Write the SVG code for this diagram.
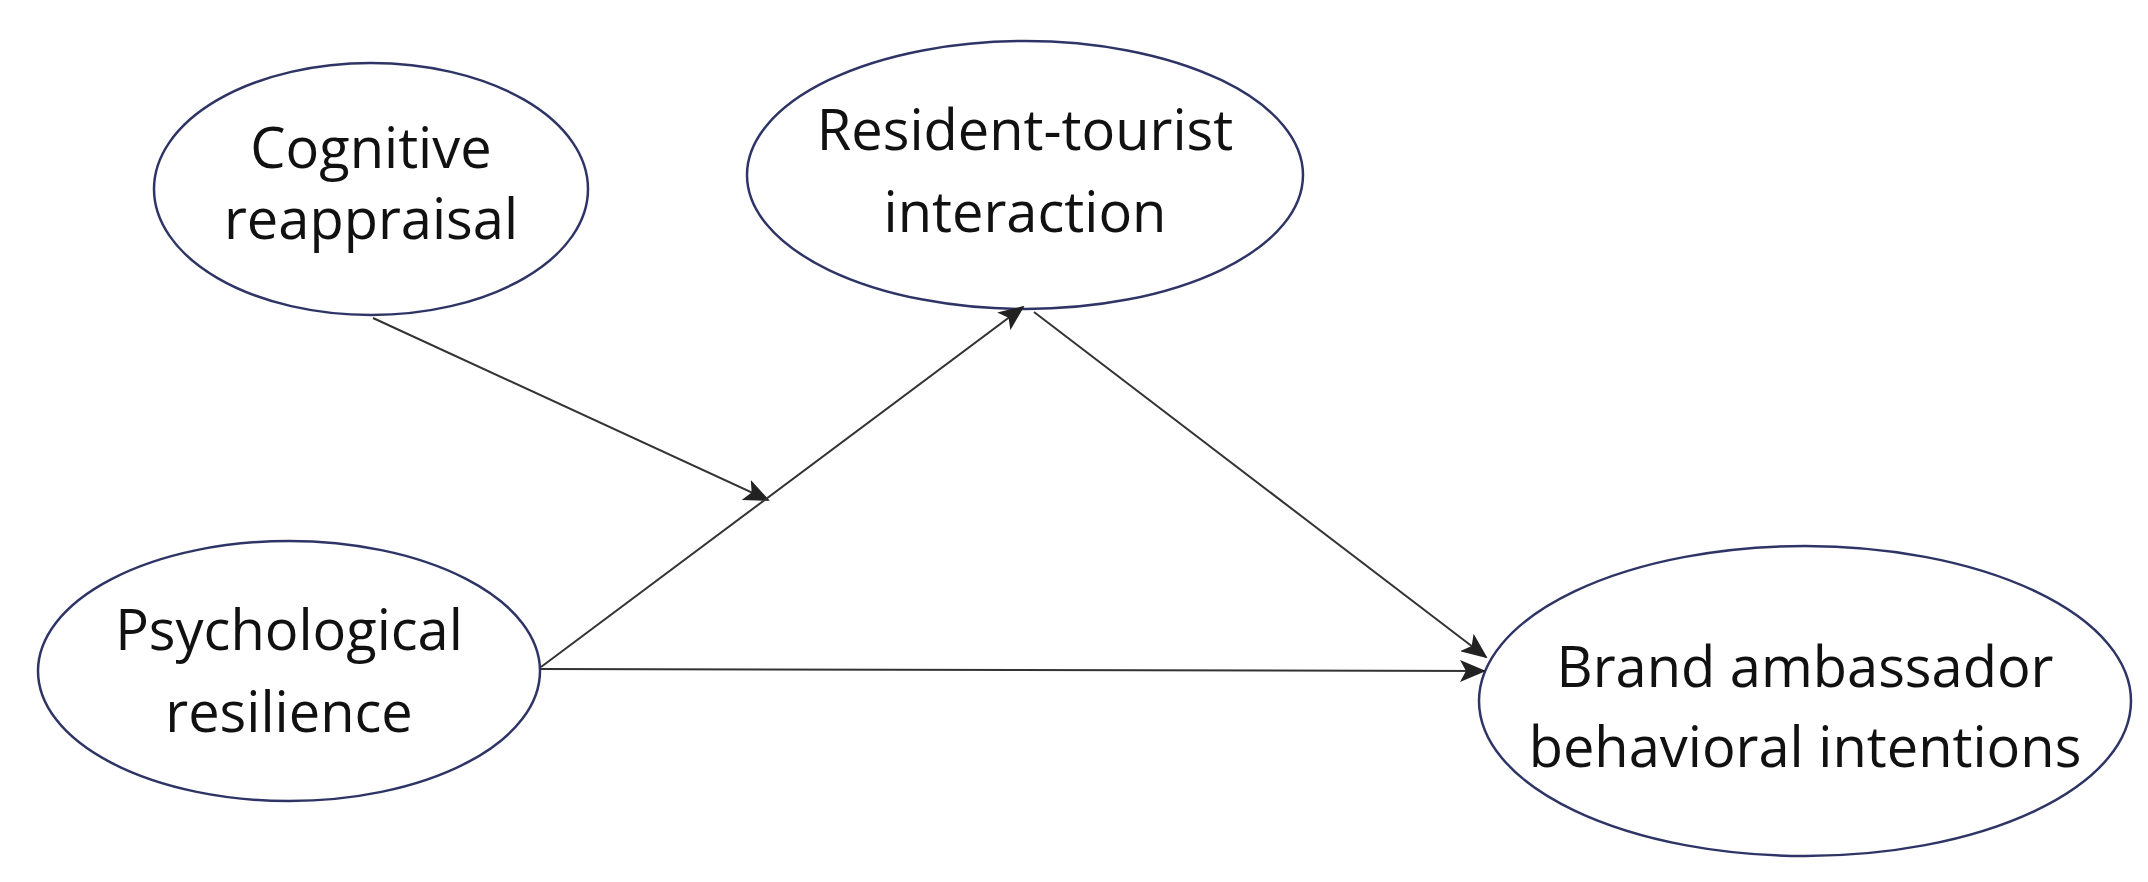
<svg xmlns="http://www.w3.org/2000/svg" width="2148" height="882" viewBox="0 0 2148 882">
<style>
.n{fill:#fff;stroke:#2e3566;stroke-width:2.5}
.t{font-family:"Open Sans","Noto Sans",sans-serif;font-size:56px;fill:#111;text-anchor:middle}
.c{stroke:#333;stroke-width:2;fill:none;marker-end:url(#a)}
</style>
<defs><marker id="a" markerWidth="26" markerHeight="22" refX="24" refY="11" orient="auto" markerUnits="userSpaceOnUse" viewBox="0 0 26 22"><path d="M0,0 L26,11 L0,22 L6,11 Z" fill="#222"/></marker></defs>
<rect width="2148" height="882" fill="#fff"/>
<g id="cog"><ellipse class="n" cx="371" cy="189" rx="217" ry="126"/><text class="t" x="371" y="168">Cognitive</text><text class="t" x="371" y="239">reappraisal</text></g>
<g id="res"><ellipse class="n" cx="1025" cy="175" rx="278" ry="134"/><text class="t" x="1025" y="150">Resident-tourist</text><text class="t" x="1025" y="232">interaction</text></g>
<g id="psy"><ellipse class="n" cx="289" cy="671" rx="251" ry="130"/><text class="t" x="289" y="650">Psychological</text><text class="t" x="289" y="732">resilience</text></g>
<g id="brand"><ellipse class="n" cx="1805" cy="701" rx="326" ry="155"/><text class="t" x="1805" y="687">Brand ambassador</text><text class="t" x="1805" y="767">behavioral intentions</text></g>
<g id="connectors">
<path class="c" d="M373,318 L768,500"/>
<path class="c" d="M541,667 L1023,307"/>
<path class="c" d="M1034,312 L1486,657"/>
<path class="c" d="M541,669 L1484,671"/>
</g>
</svg>
